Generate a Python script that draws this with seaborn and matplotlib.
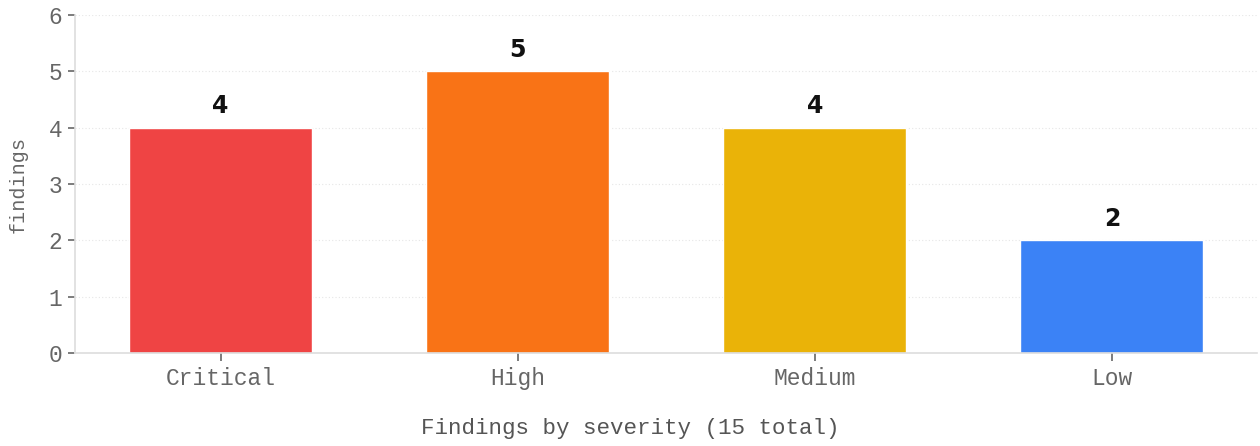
import matplotlib
matplotlib.use("Agg")
import matplotlib.pyplot as plt
import seaborn as sns
import pandas as pd

categories = ["Critical", "High", "Medium", "Low"]
counts = [4, 5, 4, 2]
colors = ["#ef4444", "#f97316", "#eab308", "#3b82f6"]
x_title = "Findings by severity (15 total)"
y_title = "findings"

sns.set_theme(style="white")
plt.rcParams["font.family"] = ["Liberation Mono", "DejaVu Sans Mono"]

df = pd.DataFrame({"severity": categories, "count": counts})

fig = plt.figure(figsize=(12.6, 4.46), dpi=100)
ax = fig.add_axes([0.0595, 0.2085, 0.9385, 0.7575])

sns.barplot(data=df, x="severity", y="count", hue="severity", palette=colors,
            order=categories, hue_order=categories, legend=False, width=0.616,
            saturation=1, ax=ax, zorder=2)

for p, v in zip(ax.patches, counts):
    ax.annotate(str(v), (p.get_x() + p.get_width() / 2, p.get_height()),
                xytext=(0, 7), textcoords="offset points", ha="center", va="bottom",
                fontsize=17, fontweight="heavy", family="DejaVu Sans", color="#111111")

ax.set_ylim(0, 6)
ax.set_xlim(-0.49, 3.49)
ax.set_yticks(range(0, 7))
ax.yaxis.grid(True, color="#e6e6e6", linestyle=(0, (1, 2)), linewidth=0.8, zorder=0)
ax.xaxis.grid(False)

for s in ["top", "right"]:
    ax.spines[s].set_visible(False)
for s in ["left", "bottom"]:
    ax.spines[s].set_color("#dddddd")
    ax.spines[s].set_linewidth(1.2)

ax.tick_params(axis="y", which="major", length=5, width=1.2, color="#666666",
               labelcolor="#666666", labelsize=16.5, left=True, pad=4)
ax.tick_params(axis="x", which="major", length=6, width=1.2, color="#666666",
               labelcolor="#666666", labelsize=16.5, bottom=True, pad=4)

ax.set_xlabel(x_title, fontsize=16.2, color="#555555", labelpad=20, x=0.4694)
ax.set_ylabel(y_title, fontsize=14.5, color="#666666", labelpad=15)

fig.savefig("out.png", dpi=100)
